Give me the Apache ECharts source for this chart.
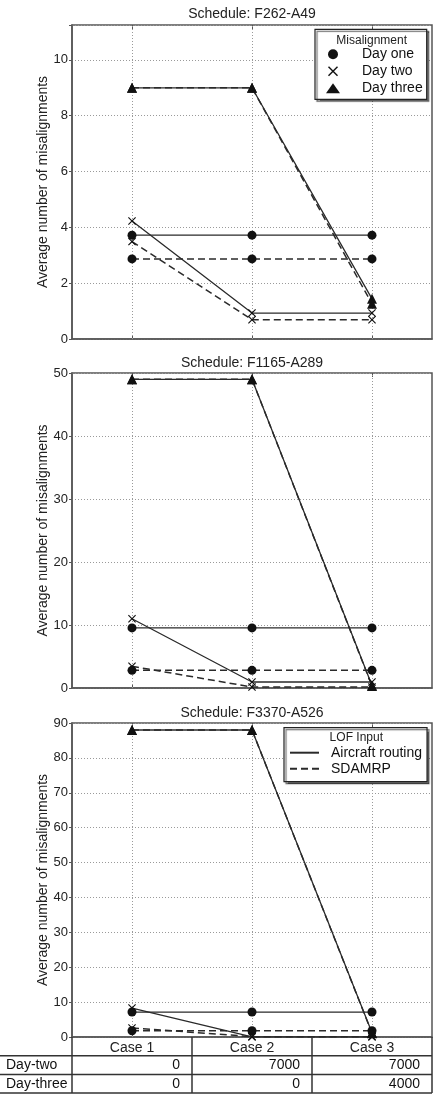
<!DOCTYPE html>
<html><head><meta charset="utf-8">
<script src="https://cdn.jsdelivr.net/npm/echarts@6/dist/echarts.min.js"></script>
<style>html,body{margin:0;padding:0;background:#fff}#c{width:437px;height:1100px}</style>
</head><body><div id="c"></div>
<script>
const categories = ['Case 1', 'Case 2', 'Case 3'];
const panelTitles = ['Schedule: F262-A49', 'Schedule: F1165-A289', 'Schedule: F3370-A526'];
const yMax = [11.25, 50, 90];
const yInterval = [2, 10, 10];
const yAxisName = 'Average number of misalignments';

// Panel 1: F262-A49
const p1DayOneAR = [3.72, 3.72, 3.72];
const p1DayOneSD = [2.87, 2.87, 2.87];
const p1DayTwoAR = [4.23, 0.93, 0.93];
const p1DayTwoSD = [3.49, 0.69, 0.69];
const p1DayThreeAR = [9.0, 9.0, 1.44];
const p1DayThreeSD = [9.0, 9.0, 1.26];
// Panel 2: F1165-A289
const p2DayOneAR = [9.54, 9.54, 9.54];
const p2DayOneSD = [2.8, 2.8, 2.8];
const p2DayTwoAR = [11.0, 0.95, 0.95];
const p2DayTwoSD = [3.45, 0.15, 0.15];
const p2DayThreeAR = [49, 49, 0.4];
const p2DayThreeSD = [49, 49, 0.3];
// Panel 3: F3370-A526
const p3DayOneAR = [7.15, 7.15, 7.15];
const p3DayOneSD = [1.8, 1.8, 1.8];
const p3DayTwoAR = [8.3, 0.05, 0.05];
const p3DayTwoSD = [2.6, 0.1, 0.1];
const p3DayThreeAR = [88, 88, 1.2];
const p3DayThreeSD = [88, 88, 1.1];

const dayNames = ['Day one', 'Day two', 'Day three'];
const lofNames = ['Aircraft routing', 'SDAMRP'];
const legendTitles = ['Misalignment', 'LOF Input'];

// Table below the chart
const tableRowLabels = ['Day-two', 'Day-three'];
const tableDayTwo = [0, 7000, 7000];
const tableDayThree = [0, 0, 4000];

const FONT = 'Liberation Sans, Arial, Helvetica, sans-serif';
const X_PATH = 'path://M1,0 L5,4 L9,0 L10,1 L6,5 L10,9 L9,10 L5,6 L1,10 L0,9 L4,5 L0,1 Z';
const daySymbols = ['circle', X_PATH, 'triangle'];
const daySymbolSize = [9, 8, 10];

const panels = [
  [[p1DayOneAR, p1DayOneSD], [p1DayTwoAR, p1DayTwoSD], [p1DayThreeAR, p1DayThreeSD]],
  [[p2DayOneAR, p2DayOneSD], [p2DayTwoAR, p2DayTwoSD], [p2DayThreeAR, p2DayThreeSD]],
  [[p3DayOneAR, p3DayOneSD], [p3DayTwoAR, p3DayTwoSD], [p3DayThreeAR, p3DayThreeSD]]
];

const gridTops = [25, 373, 723];
const gridHeights = [314, 315, 314];
const titleTops = [7, 356.5, 706];

const chart = echarts.init(document.getElementById('c'), null, {renderer: 'canvas'});

const grids = [], xAxes = [], yAxes = [], titles = [], series = [];
for (let i = 0; i < 3; i++) {
  grids.push({left: 72, right: 5, top: gridTops[i], height: gridHeights[i], show: true,
    borderColor: '#555', borderWidth: 1.5, backgroundColor: 'transparent'});
  titles.push({text: panelTitles[i], left: 252, top: titleTops[i], textAlign: 'center', padding: 0,
    textStyle: {fontSize: 14, fontWeight: 'normal', color: '#222', fontFamily: FONT}});
  yAxes.push({type: 'value', gridIndex: i, min: 0, max: yMax[i], interval: yInterval[i],
    name: yAxisName, nameLocation: 'middle', nameGap: 22, nameMoveOverlap: false,
    nameTextStyle: {fontSize: 14, color: '#222', fontFamily: FONT},
    axisLine: {show: true, lineStyle: {color: '#555', width: 1.5}},
    axisTick: {show: true, inside: false, length: 3, lineStyle: {color: '#555'}},
    axisLabel: {fontSize: 13, color: '#222', margin: 4, fontFamily: FONT,
      formatter: (v) => (Math.abs(v / yInterval[i] - Math.round(v / yInterval[i])) < 1e-6 ? String(v) : '')},
    splitLine: {show: true, lineStyle: {color: '#9a9a9a', type: [1, 2], width: 1}}});
}
for (let i = 0; i < 3; i++) {
  xAxes.push({type: 'category', gridIndex: i, data: categories, boundaryGap: true, position: 'bottom',
    axisLine: {show: true, lineStyle: {color: '#555', width: 1.5}},
    axisTick: {show: true, inside: true, alignWithLabel: true, length: 4, lineStyle: {color: '#555'}},
    axisLabel: {show: i === 2, fontSize: 14, color: '#222', margin: 3, lineHeight: 16, fontFamily: FONT},
    splitLine: {show: false}});
}
for (let i = 0; i < 3; i++) {
  xAxes.push({type: 'category', gridIndex: i, data: categories, boundaryGap: true, position: 'top',
    axisLine: {show: false},
    axisTick: {show: true, inside: true, alignWithLabel: true, length: 4, lineStyle: {color: '#555'}},
    axisLabel: {show: false}, splitLine: {show: false}});
}

for (let i = 0; i < 3; i++) {
  for (let d = 0; d < 3; d++) {
    for (let k = 0; k < 2; k++) {
      const s = {
        type: 'line', name: dayNames[d], xAxisIndex: i, yAxisIndex: i,
        data: panels[i][d][k], symbol: daySymbols[d], symbolSize: daySymbolSize[d],
        showSymbol: true, clip: false, silent: true,
        itemStyle: {color: '#111'},
        lineStyle: {color: '#2a2a2a', width: k === 0 ? 1.3 : 1.5, type: k === 0 ? 'solid' : [7, 4]},
        emphasis: {disabled: true}, z: 3
      };
      if (d === 0 && k === 0) {
        s.markLine = {silent: true, symbol: ['none', 'none'], label: {show: false},
          lineStyle: {color: '#9a9a9a', type: [1, 2], width: 1},
          data: categories.map(c => ({xAxis: c})), z: 1};
      }
      series.push(s);
    }
  }
}
// legend-only series for the LOF legend
lofNames.forEach((n, k) => series.push({type: 'line', name: n, xAxisIndex: 2, yAxisIndex: 2, data: [],
  symbol: 'none', lineStyle: {color: '#2a2a2a', width: k === 0 ? 1.3 : 1.5, type: k === 0 ? 'solid' : [7, 4]}}));

const legendCommon = {orient: 'vertical', selectedMode: false, backgroundColor: '#fff',
  borderColor: '#222', borderWidth: 1.2, borderRadius: 0,
  shadowColor: 'rgba(0,0,0,0.55)', shadowBlur: 1, shadowOffsetX: 2, shadowOffsetY: 2};

const option = {
  animation: false,
  textStyle: {fontFamily: FONT},
  title: titles,
  grid: grids, xAxis: xAxes, yAxis: yAxes,
  legend: [
    Object.assign({}, legendCommon, {left: 315, top: 29.3,
      data: [{name: dayNames[0], icon: 'circle'}, {name: dayNames[1], icon: X_PATH}, {name: dayNames[2], icon: 'triangle'}],
      itemWidth: 14, itemHeight: 10, itemGap: 1, padding: [17, 4, 3, 11],
      textStyle: {fontSize: 14, color: '#111', lineHeight: 16, padding: [0, 0, 0, 17], fontFamily: FONT}}),
    Object.assign({}, legendCommon, {left: 284, top: 727.7,
      data: lofNames.map(n => ({name: n, itemStyle: {opacity: 0}})),
      itemWidth: 29, itemHeight: 12, itemGap: 0, padding: [17, 5, 5, 5],
      textStyle: {fontSize: 14, color: '#111', lineHeight: 16, padding: [0, 0, 0, 7], fontFamily: FONT}})
  ],
  series: series
};
chart.setOption(option);

// Table and legend titles positioned from the bottom panel's axes
const cx = categories.map(c => chart.convertToPixel({xAxisIndex: 2}, c));
const band = cx[1] - cx[0];
const y0 = chart.convertToPixel({yAxisIndex: 2}, 0);
const rowH = 18.7;
const colEdges = [cx[0] - band / 2].concat(cx.map(x => x + band / 2));
const lineStyle = {stroke: '#333', lineWidth: 1.5};
const g = [];
for (let r = 1; r <= 3; r++) {
  g.push({type: 'line', z: 50, shape: {x1: 0, y1: y0 + rowH * r, x2: colEdges[3], y2: y0 + rowH * r}, style: lineStyle});
}
colEdges.forEach(x => g.push({type: 'line', z: 50, shape: {x1: x, y1: y0, x2: x, y2: y0 + rowH * 3}, style: lineStyle}));
const tableRows = [tableDayTwo, tableDayThree];
tableRowLabels.forEach((lab, r) => {
  const yc = y0 + rowH * (r + 1.5);
  g.push({type: 'text', z: 50, x: 6, y: yc, style: {text: lab, fontSize: 14, fontFamily: FONT, fill: '#111', align: 'left', verticalAlign: 'middle'}});
  tableRows[r].forEach((v, c) => {
    g.push({type: 'text', z: 50, x: colEdges[c + 1] - 12, y: yc, style: {text: String(v), fontSize: 14, fontFamily: FONT, fill: '#111', align: 'right', verticalAlign: 'middle'}});
  });
});
g.push({type: 'text', z: 100, x: 371.7, y: 40.7, style: {text: legendTitles[0], fontSize: 12, fontFamily: FONT, fill: '#222', align: 'center', verticalAlign: 'middle'}});
g.push({type: 'text', z: 100, x: 356.3, y: 737.7, style: {text: legendTitles[1], fontSize: 12, fontFamily: FONT, fill: '#222', align: 'center', verticalAlign: 'middle'}});
chart.setOption({graphic: {elements: g}});
</script>
</body></html>
